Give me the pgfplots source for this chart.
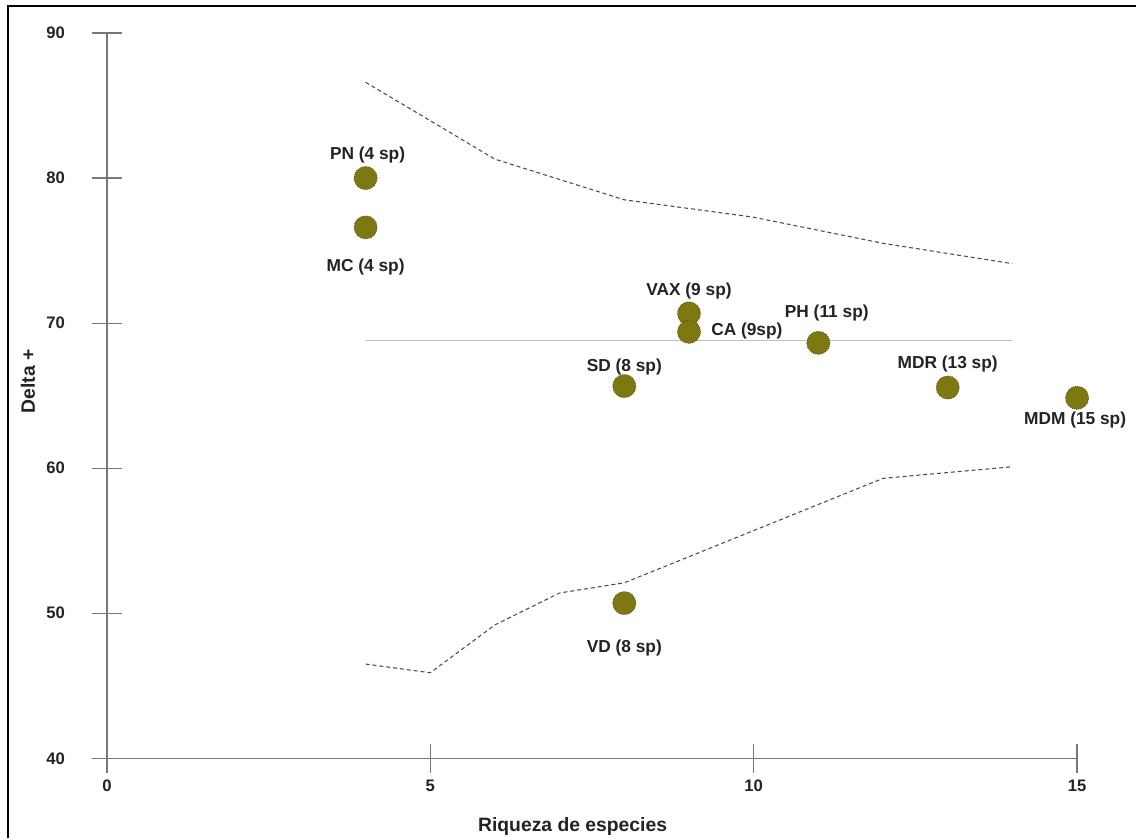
\documentclass[border=0pt]{standalone}
\usepackage{pgfplots}
\pgfplotsset{compat=1.18}
\usepackage{fontspec}
\setmainfont{Liberation Sans}
\definecolor{olivept}{RGB}{125,120,18}
\definecolor{olivedk}{RGB}{85,80,10}
\definecolor{axgray}{RGB}{120,120,120}
\definecolor{txt}{RGB}{35,35,35}
\begin{document}
\begin{tikzpicture}
\begin{axis}[
 at={(0,0)}, anchor=south west,
 scale only axis, width=728.25pt, height=544.5pt,
 xmin=0, xmax=15, ymin=40, ymax=90,
 axis x line=bottom, axis y line=left,
 axis line style={-, axgray, line width=0.9pt},
 xtick={0,5,10,15}, ytick={40,50,60,70,80,90},
 tick align=center, major tick length=22pt,
 tick style={axgray, line width=0.9pt},
 /pgf/number format/assume math mode=true,
 ticklabel style={font=\fontsize{12.5}{15}\selectfont\bfseries, text=txt},
 xticklabel style={anchor=center, yshift=-9.5pt},
 yticklabel style={anchor=east, xshift=-17pt},
 xlabel={Riqueza de especies},
 ylabel={Delta +},
 xlabel style={at={(axis description cs:0.48,-0.0937)}, anchor=center, font=\fontsize{14.5}{17}\selectfont\bfseries, text=txt},
 ylabel style={at={(axis description cs:-0.0814,0.52)}, anchor=center, rotate=0, font=\fontsize{14.5}{17}\selectfont\bfseries, text=txt},
 clip=false,
]
% mean line
\addplot[no marks, black!25, line width=0.8pt] coordinates {(4,68.8) (14,68.8)};
% upper 95% limit
\addplot[no marks, black!70, line width=0.8pt, dash pattern=on 3pt off 2.2pt] coordinates {
(4,86.6) (6,81.3) (8,78.5) (10,77.3) (12,75.5) (14,74.1)};
% lower 95% limit
\addplot[no marks, black!70, line width=0.8pt, dash pattern=on 3pt off 2.2pt] coordinates {
(4,46.5) (5,45.9) (6,49.2) (7,51.4) (8,52.1) (10,55.7) (12,59.3) (14,60.1)};
% sites
\addplot[only marks, mark=*, mark size=8.7pt, mark options={fill=olivept, draw=olivedk, line width=0.6pt, densely dotted}] coordinates {
(4,80.0) (4,76.6) (9,70.67) (9,69.4) (11,68.64) (8,65.66) (13,65.56) (15,64.85) (8,50.7)};
\begin{scope}[every node/.style={font=\fontsize{13}{15}\selectfont\bfseries, text=txt}]
\node at (axis cs:4.03,81.6) {PN (4 sp)};
\node at (axis cs:4.0,73.9) {MC (4 sp)};
\node at (axis cs:9.0,72.2) {VAX (9 sp)};
\node[anchor=west, inner sep=0pt] at (axis cs:9.34,69.45) {CA (9sp)};
\node at (axis cs:11.13,70.7) {PH (11 sp)};
\node at (axis cs:8.0,67.0) {SD (8 sp)};
\node at (axis cs:13.0,67.2) {MDR (13 sp)};
\node at (axis cs:14.97,63.3) {MDM (15 sp)};
\node at (axis cs:8.0,47.6) {VD (8 sp)};
\end{scope}
\end{axis}
\draw[line width=1.5pt] (-74.25pt,-60pt) -- (-74.25pt,564.75pt) -- (772.5pt,564.75pt);
\path (-80.25pt,-60pt) rectangle (772.5pt,569.25pt);
\end{tikzpicture}
\end{document}
